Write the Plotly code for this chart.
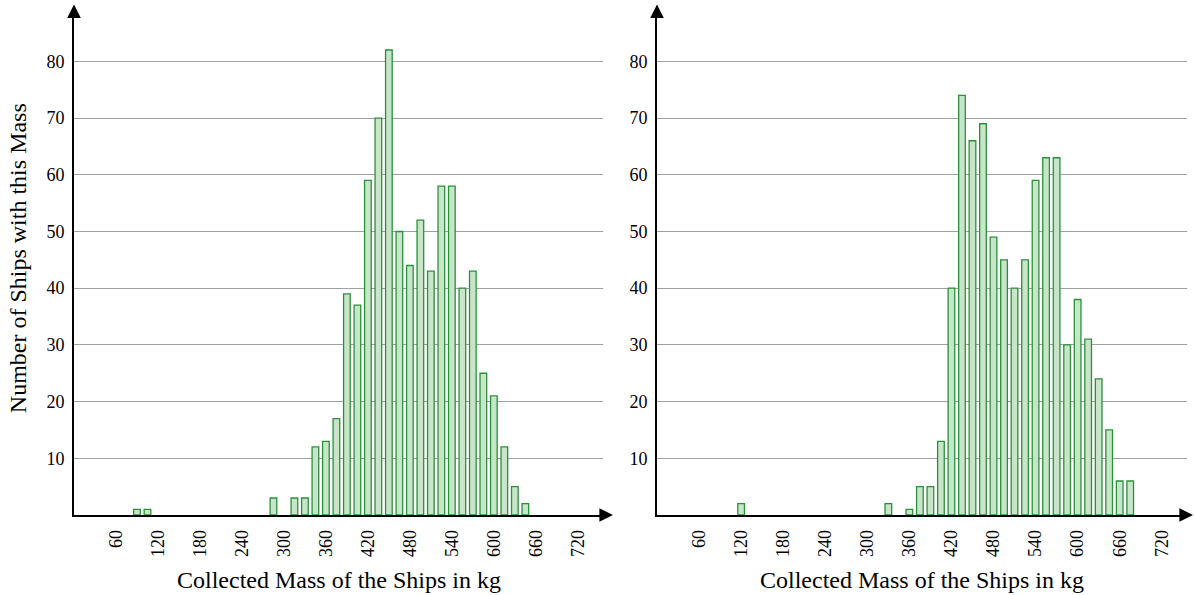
import plotly.graph_objects as go

# ---------------- data ----------------
left_mass = [90, 105, 285, 315, 330, 345, 360, 375, 390, 405, 420, 435, 450, 465,
             480, 495, 510, 525, 540, 555, 570, 585, 600, 615, 630, 645]
left_count = [1, 1, 3, 3, 3, 12, 13, 17, 39, 37, 59, 70, 82, 50,
              44, 52, 43, 58, 58, 40, 43, 25, 21, 12, 5, 2]

right_mass = [120, 330, 360, 375, 390, 405, 420, 435, 450, 465, 480, 495, 510,
              525, 540, 555, 570, 585, 600, 615, 630, 645, 660, 675]
right_count = [2, 2, 1, 5, 5, 13, 40, 74, 66, 69, 49, 45, 40,
               45, 59, 63, 63, 30, 38, 31, 24, 15, 6, 6]

x_ticks = [60, 120, 180, 240, 300, 360, 420, 480, 540, 600, 660, 720]
y_ticks = [10, 20, 30, 40, 50, 60, 70, 80]

x_title = "Collected Mass of the Ships in kg"
y_title = "Number of Ships with this Mass"

# ---------------- geometry ----------------
W, H = 1194, 595
MB = 80
Y_MAX = 88
PX_PER_UNIT = 5.675
PLOT_H = Y_MAX * PX_PER_UNIT
MT = H - MB - PLOT_H

left_dom = [74 / W, 603 / W]
right_dom = [657 / W, 1187 / W]

FONT = "Liberation Serif"
FILL = "rgb(200,228,201)"
EDGE = "rgb(42,145,58)"

fig = go.Figure()
fig.add_trace(go.Bar(x=left_mass, y=left_count, width=9.5, xaxis="x", yaxis="y",
                     marker=dict(color=FILL, line=dict(color=EDGE, width=1.3)),
                     showlegend=False, hoverinfo="x+y"))
fig.add_trace(go.Bar(x=right_mass, y=right_count, width=9.5, xaxis="x2", yaxis="y2",
                     marker=dict(color=FILL, line=dict(color=EDGE, width=1.3)),
                     showlegend=False, hoverinfo="x+y"))

xcommon = dict(range=[0, 756], tickvals=x_ticks, ticktext=[str(v) for v in x_ticks],
               tickangle=-90, showgrid=False, zeroline=False, showline=True,
               linecolor="black", linewidth=1.6, ticks="", ticklabelstandoff=6,
               tickfont=dict(family=FONT, size=18, color="black"))
ycommon = dict(range=[0, Y_MAX], tickvals=y_ticks, ticktext=[str(v) for v in y_ticks],
               showgrid=True, gridcolor="rgb(160,160,160)", gridwidth=1,
               zeroline=False, showline=True, linecolor="black", linewidth=1.6,
               ticks="", ticklabelstandoff=4,
               tickfont=dict(family=FONT, size=18, color="black"))

fig.update_layout(
    width=W, height=H,
    margin=dict(l=0, r=0, t=MT, b=MB),
    paper_bgcolor="white", plot_bgcolor="white",
    xaxis=dict(domain=left_dom, anchor="y", **xcommon),
    yaxis=dict(domain=[0, 1], anchor="x", **ycommon),
    xaxis2=dict(domain=right_dom, anchor="y2", **xcommon),
    yaxis2=dict(domain=[0, 1], anchor="x2", **ycommon),
    font=dict(family=FONT, color="black"),
)

def px_to_paper_y(py):
    return (H - MB - py) / PLOT_H

annotations = []
# arrowheads on axes
for x0, xend in [(74, 613), (657, 1193)]:
    annotations.append(dict(xref="paper", yref="paper", x=xend / W, y=0,
                            ax=-14, ay=0, text="", showarrow=True, arrowhead=2,
                            arrowsize=1.7, arrowwidth=1.6, arrowcolor="black", standoff=0))
    annotations.append(dict(xref="paper", yref="paper", x=x0 / W, y=px_to_paper_y(4),
                            ax=0, ay=14, text="", showarrow=True, arrowhead=2,
                            arrowsize=1.7, arrowwidth=1.6, arrowcolor="black", standoff=0))
# axis titles
for cx in [(74 + 603) / 2, (657 + 1187) / 2]:
    annotations.append(dict(xref="paper", yref="paper", x=cx / W, y=px_to_paper_y(580),
                            text=x_title, showarrow=False, xanchor="center", yanchor="middle",
                            font=dict(family=FONT, size=24, color="black")))
annotations.append(dict(xref="paper", yref="paper", x=18 / W, y=px_to_paper_y(258),
                        text=y_title, showarrow=False, textangle=-90,
                        xanchor="center", yanchor="middle",
                        font=dict(family=FONT, size=24, color="black")))
fig.update_layout(annotations=annotations)

fig.write_html("out.html")
